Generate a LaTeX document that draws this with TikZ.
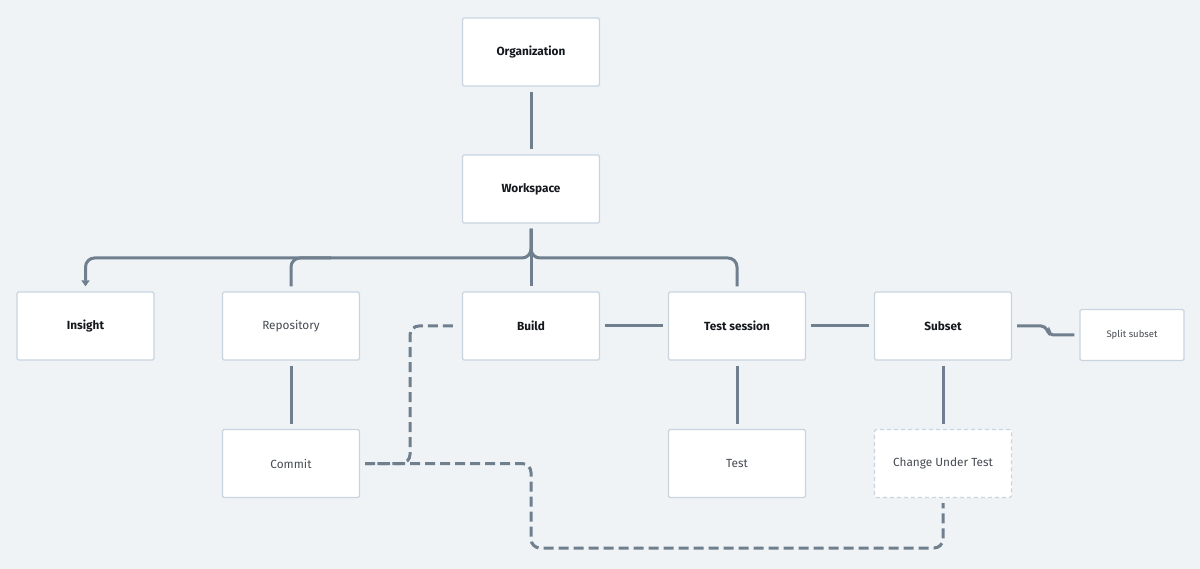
\documentclass[tikz,border=0pt]{standalone}
\usepackage{fontspec}
\setmainfont{Fira Sans}
\usetikzlibrary{arrows.meta}
\definecolor{bg}{HTML}{EFF3F6}
\definecolor{boxline}{HTML}{C9D4DF}
\definecolor{conn}{HTML}{6F7F8E}
\definecolor{txt}{HTML}{464B52}
\definecolor{txtb}{HTML}{14181D}
\tikzset{
  ent/.style={draw=boxline, line width=1.3pt, fill=white, rounded corners=1.5pt,
    minimum width=137pt, minimum height=68pt, inner sep=0pt,
    font=\fontsize{11.8}{13}\selectfont, text=txt},
  entb/.style={ent, font=\fontsize{11.8}{13}\selectfont\bfseries, text=txtb},
  entsm/.style={ent, minimum width=104pt, minimum height=51pt, font=\fontsize{9.5}{11}\selectfont},
  entd/.style={ent, dashed, dash pattern=on 4pt off 3pt},
  link/.style={draw=conn, line width=3pt, rounded corners=9pt},
  dlink/.style={link, dash pattern=on 10pt off 5pt},
}
\begin{document}
\begin{tikzpicture}[x=1pt,y=-1pt]
\useasboundingbox[fill=bg] (0,0) rectangle (1200,569);
\node[entb] (org) at (531,52) {Organization};
\node[entb] (ws) at (531,189) {Workspace};
\node[entb] (ins) at (85.5,326) {Insight};
\node[ent] (repo) at (291,326) {Repository};
\node[entb] (build) at (531,326) {Build};
\node[entb] (ts) at (737,326) {Test session};
\node[entb] (sub) at (943,326) {Subset};
\node[entsm] (split) at (1132,335) {Split subset};
\node[ent] (commit) at (291,463.5) {Commit};
\node[ent] (test) at (737,463.5) {Test};
\node[entd] (cut) at (943,463.5) {Change Under Test};
\coordinate (jn) at (531,258);
% tree
\draw[link] ([yshift=-5pt]org.south) -- ([yshift=5pt]ws.north);
\draw[link] ([yshift=-5pt]ws.south) -- ([yshift=5pt]build.north);
\draw[link, -{Triangle[width=8pt,length=6pt]}] ([yshift=-5pt]ws.south) -- (jn) -| ([yshift=5pt]ins.north);
\draw[link] ([yshift=5pt]repo.north) |- ([xshift=40pt]repo.north |- jn);
\draw[link] ([yshift=-5pt]ws.south) -- (jn) -| ([yshift=5pt]ts.north);
% row
\draw[link] ([xshift=5pt]build.east) -- ([xshift=-5pt]ts.west);
\draw[link] ([xshift=5pt]ts.east) -- ([xshift=-5pt]sub.west);
\draw[link, rounded corners=4pt] ([xshift=5pt]sub.east) -- ++(28,0) -- ++(4,9) |- ([xshift=-5pt]split.west);
% verticals
\draw[link] ([yshift=-5pt]repo.south) -- ([yshift=5pt]commit.north);
\draw[link] ([yshift=-5pt]ts.south) -- ([yshift=5pt]test.north);
\draw[link] ([yshift=-5pt]sub.south) -- ([yshift=5pt]cut.north);
% dashed
\draw[dlink] ([xshift=-9pt]build.west) -- (410,326) -- (410,463.5) -- ([xshift=5pt]commit.east);
\draw[dlink] ([xshift=5pt]commit.east) -- (531,463.5) -- (531,548) -| ([yshift=-5pt]cut.south);
\end{tikzpicture}
\end{document}
